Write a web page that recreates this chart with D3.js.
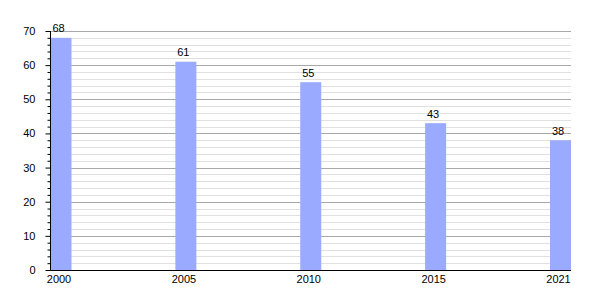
<!DOCTYPE html>
<html><head><meta charset="utf-8">
<script src="https://cdn.jsdelivr.net/npm/d3@7"></script>
<style>body{margin:0;background:#fff}svg text{font-family:"Liberation Sans",Arial,sans-serif}</style>
</head><body><svg id="c" width="600" height="300"></svg>
<script>
const categories = ["2000","2005","2010","2015","2021"];
const values = [68,61,55,43,38];
const majorTicks = [0,10,20,30,40,50,60,70];

const svg = d3.select("#c");
const x = d3.scalePoint().domain(categories).range([61, 560.5]);
const y = d3.scaleLinear().domain([0,70]).range([270, 31]);
const left = 50, right = 571, barW = 21, labelShift = -2.5;

const minor = d3.range(0, 71, 2).filter(v => v % 10 !== 0);
svg.append("g").selectAll("line").data(minor).join("line")
  .attr("x1", left).attr("x2", right)
  .attr("y1", d => Math.round(y(d)) + 0.5).attr("y2", d => Math.round(y(d)) + 0.5)
  .attr("stroke", "#e0e0e0").attr("stroke-width", 1);
svg.append("g").selectAll("line").data(majorTicks.filter(v => v > 0)).join("line")
  .attr("x1", left).attr("x2", right)
  .attr("y1", d => Math.round(y(d)) + 0.5).attr("y2", d => Math.round(y(d)) + 0.5)
  .attr("stroke", "#a8a8a8").attr("stroke-width", 1);

svg.append("g").selectAll("rect").data(values).join("rect")
  .attr("x", (d,i) => x(categories[i]) - barW/2)
  .attr("width", barW)
  .attr("y", d => y(d))
  .attr("height", d => y(0) - y(d))
  .attr("fill", "#99aaff");

svg.append("g").selectAll("text").data(values).join("text")
  .attr("x", (d,i) => x(categories[i]) + labelShift)
  .attr("y", d => y(d) - 5.5)
  .attr("text-anchor", "middle")
  .attr("font-size", 11)
  .attr("fill", "#000")
  .text(d => d);

// y axis
const yAxis = d3.axisLeft(y).tickValues(majorTicks).tickSize(5).tickPadding(10).tickFormat(d3.format("d"));
const gy = svg.append("g").attr("transform", `translate(${left + 0.5},0)`).call(yAxis);
gy.select(".domain").attr("stroke", "#000").attr("d", `M0,${y(70)}V${y(0)}`);
gy.selectAll(".tick text").attr("font-size", 11).attr("font-family", "Liberation Sans, Arial, sans-serif");
const yMinor = d3.axisLeft(y).tickValues(minor).tickSize(3).tickFormat("");
const gm = svg.append("g").attr("transform", `translate(${left + 0.5},0)`).call(yMinor);
gm.select(".domain").remove();

// x axis
const xAxis = d3.axisBottom(x).tickSize(0).tickPadding(5);
const gx = svg.append("g").attr("transform", `translate(0,${y(0) + 0.5})`).call(xAxis);
gx.select(".domain").attr("stroke", "#000").attr("d", `M${left},0H${right}`);
gx.selectAll(".tick text").attr("font-size", 11).attr("font-family", "Liberation Sans, Arial, sans-serif").attr("dx", labelShift);
</script></body></html>
